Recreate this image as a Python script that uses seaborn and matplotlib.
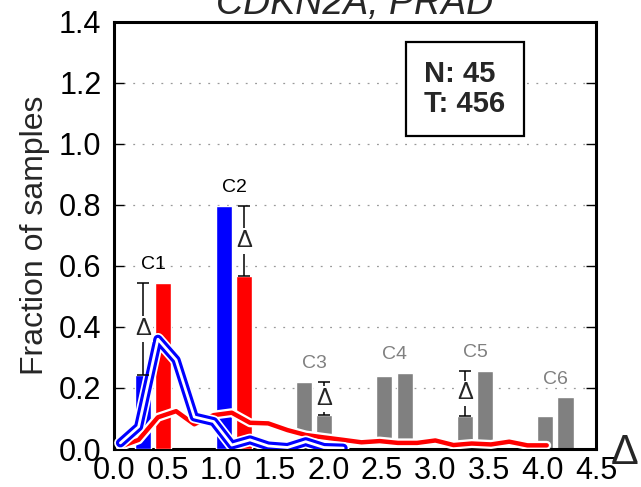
import matplotlib
matplotlib.use("Agg")
import matplotlib.pyplot as plt
import matplotlib.patheffects as pe
from matplotlib import font_manager
import seaborn as sns
import pandas as pd

# cluster summary: fraction of samples per cluster (normal = blue, tumor = red)
clusters = ["C1", "C2", "C3", "C4", "C5", "C6"]
cluster_delta = [0.365, 1.12, 1.87, 2.62, 3.37, 4.12]
normal_frac = [0.243, 0.798, 0.219, 0.239, 0.108, 0.108]
tumor_frac = [0.545, 0.568, 0.111, 0.250, 0.256, 0.169]
significant = [True, True, True, False, True, False]
highlight = [True, True, False, False, False, False]

# delta distributions drawn as lines
delta_grid = [0.06, 0.23, 0.41, 0.58, 0.75, 0.93, 1.10, 1.27, 1.44, 1.62, 1.79, 1.96,
              2.14, 2.31, 2.48, 2.65, 2.83, 3.00, 3.17, 3.34, 3.52, 3.69, 3.86, 4.04]
tumor_density = [0.008, 0.030, 0.104, 0.124, 0.081, 0.111, 0.119, 0.086, 0.084, 0.062, 0.046, 0.038,
                 0.030, 0.022, 0.026, 0.020, 0.020, 0.028, 0.013, 0.018, 0.015, 0.024, 0.012, 0.012]
normal_density = [0.020, 0.073, 0.360, 0.292, 0.105, 0.090, 0.013, 0.030, 0.010, 0.005, 0.024, 0.005,
                  0.003]

xticks = [0.0, 0.5, 1.0, 1.5, 2.0, 2.5, 3.0, 3.5, 4.0, 4.5]
yticks = [0.0, 0.2, 0.4, 0.6, 0.8, 1.0, 1.2, 1.4]
n_normal, n_tumor = 45, 456

sns.set_theme(style="ticks")
names = {f.name for f in font_manager.fontManager.ttflist}
narrow = "Liberation Sans Narrow" if "Liberation Sans Narrow" in names else "Liberation Sans"
plt.rcParams["font.family"] = ["Liberation Sans", "DejaVu Sans"]

fig = plt.figure(figsize=(6.41, 4.87), dpi=100)
ax = fig.add_axes([0.1778, 0.078, 0.752, 0.877])

bar_w = 0.15
off = 0.095
grey = "#808080"
for i, c in enumerate(clusters):
    xc = cluster_delta[i]
    cn = "#0000ff" if highlight[i] else grey
    ct = "#ff0000" if highlight[i] else grey
    z = 3 if highlight[i] else 2
    ax.bar(xc - off, normal_frac[i], width=bar_w, color=cn, edgecolor="white", lw=1, zorder=z)
    ax.bar(xc + off, tumor_frac[i], width=bar_w, color=ct, edgecolor="white", lw=1, zorder=z)
    top = max(normal_frac[i], tumor_frac[i])
    ax.text(xc, top + 0.06, c, ha="center", va="center", fontsize=14,
            color="black" if highlight[i] else grey, zorder=6)
    if significant[i]:
        lo = min(normal_frac[i], tumor_frac[i])
        xe = xc - off if normal_frac[i] < tumor_frac[i] else xc + off
        ax.errorbar([xe], [(lo + top) / 2], yerr=[(top - lo) / 2], fmt="none",
                    ecolor="black", elinewidth=1.1, capsize=4, capthick=1.1, zorder=6)
        ax.text(xe, (lo + top) / 2, "Δ", ha="center", va="center", fontsize=17,
                zorder=7, bbox=dict(boxstyle="square,pad=0.08", fc="white", ec="none"))

# hide the grey bars below the tumor line
ax.fill_between(delta_grid, 0, tumor_density, color="white", lw=0, zorder=2.5)

lines = pd.DataFrame({"delta": delta_grid, "frac": tumor_density})
sns.lineplot(data=lines, x="delta", y="frac", color="#ff0000", lw=3.2, ax=ax, zorder=5,
             path_effects=[pe.Stroke(linewidth=6.5, foreground="white"), pe.Normal()])
nlines = pd.DataFrame({"delta": delta_grid[:len(normal_density)], "frac": normal_density})
sns.lineplot(data=nlines, x="delta", y="frac", color="white", lw=2.0, ax=ax, zorder=5,
             path_effects=[pe.Stroke(linewidth=9, foreground="white"),
                           pe.Stroke(linewidth=6.5, foreground="#0000ff"), pe.Normal()])

ax.set_xlim(0, 4.5)
ax.set_ylim(0, 1.4)
ax.set_xticks(xticks)
ax.set_xticklabels([f"{t:.1f}" for t in xticks], fontsize=22)
ax.set_yticks(yticks)
ax.set_yticklabels([f"{t:.1f}" for t in yticks], fontsize=22, family=narrow)
ax.tick_params(axis="x", direction="in", length=6.5, width=1, pad=5, colors="black")
ax.tick_params(axis="y", direction="in", length=7, width=1, pad=9, right=True, colors="black")
ax.yaxis.grid(True, linestyle=(0, (1.5, 6)), color="#999999", lw=0.9)
for s in ax.spines.values():
    s.set_visible(True)
    s.set_linewidth(2.2)
    s.set_color("black")

ax.set_ylabel("Fraction of samples", fontsize=23, family=narrow)
ax.yaxis.label.set_va("center")
ax.yaxis.set_label_coords(-0.164, 0.5)
ax.set_xlabel("Δ", fontsize=30)
ax.xaxis.label.set_va("center")
ax.xaxis.set_label_coords(1.06, -0.01)
ax.set_title("CDKN2A, PRAD", fontsize=27, style="italic", pad=2)

ax.text(0.728, 0.843, f"N: {n_normal}\nT: {n_tumor}", transform=ax.transAxes,
        ha="center", va="center", fontsize=21, fontweight="bold", linespacing=1.05,
        multialignment="left", zorder=8,
        bbox=dict(boxstyle="square,pad=0.62", fc="white", ec="black", lw=1.6))

fig.savefig("out.png", dpi=100)
